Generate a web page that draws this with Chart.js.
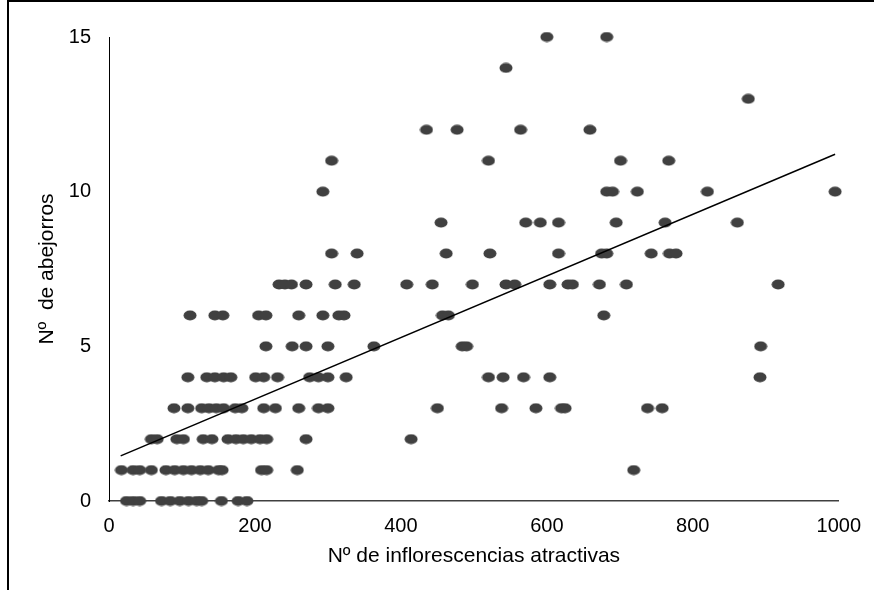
<!DOCTYPE html>
<html>
<head>
<meta charset="utf-8">
<script src="https://cdn.jsdelivr.net/npm/chart.js@4"></script>
<style>
    body{ margin:0; background:#fff; }
    #contenedor{ position:relative; width:874px; height:590px; overflow:hidden; }
    #marco{ position:absolute; left:7px; top:0px; width:900px; height:700px; border-left:2px solid #000; border-top:2px solid #000; }
    #grafico{ position:absolute; left:0; top:0; }
</style>
</head>
<body>
<div id="contenedor">
    <div id="marco"></div>
    <canvas id="grafico" width="874" height="590"></canvas>
</div>
<script>
// inflorescencias atractivas por cada numero de abejorros (0..15)
const infl_0 = [24, 33, 42, 72, 84, 97, 109, 120, 127, 154, 177, 189];
const infl_1 = [17, 33, 42, 58, 78, 90, 102, 113, 125, 136, 150, 155, 209, 216, 258, 719];
const infl_2 = [58, 66, 93, 102, 129, 141, 163, 174, 184, 195, 207, 216, 270, 414];
const infl_3 = [89, 108, 127, 137, 147, 157, 173, 182, 212, 228, 260, 287, 300, 450, 538, 585, 620, 625, 738, 758];
const infl_4 = [108, 134, 145, 157, 167, 201, 212, 231, 275, 287, 300, 325, 520, 540, 568, 604, 892];
const infl_5 = [215, 251, 270, 300, 363, 484, 490, 893];
const infl_6 = [111, 145, 156, 205, 215, 260, 293, 315, 322, 457, 465, 678];
const infl_7 = [233, 241, 250, 270, 310, 336, 408, 443, 498, 544, 556, 604, 629, 635, 672, 709, 917];
const infl_8 = [305, 340, 462, 522, 616, 675, 682, 743, 768, 777];
const infl_9 = [455, 571, 591, 616, 695, 762, 861];
const infl_10 = [293, 682, 690, 724, 820, 995];
const infl_11 = [305, 520, 701, 767];
const infl_12 = [435, 477, 564, 659];
const infl_13 = [876];
const infl_14 = [544];
const infl_15 = [600, 682];

const filas = [infl_0, infl_1, infl_2, infl_3, infl_4, infl_5, infl_6, infl_7,
    infl_8, infl_9, infl_10, infl_11, infl_12, infl_13, infl_14, infl_15];

// linea de tendencia (extremos)
const tendencia_x = [16, 995];
const tendencia_y = [1.46, 11.21];

const ticks_x = [0, 200, 400, 600, 800, 1000];
const ticks_y = [0, 5, 10, 15];

let puntos = [];
filas.forEach((fila, abejorros) => {
    fila.forEach((x) => puntos.push({x: x, y: abejorros}));
});
const linea = tendencia_x.map((x, i) => ({x: x, y: tendencia_y[i]}));

// marcador eliptico como en el original
const marcador = document.createElement("canvas");
marcador.width = 14;
marcador.height = 11;
let mctx = marcador.getContext("2d");
mctx.fillStyle = "#404040";
mctx.beginPath();
mctx.ellipse(7, 5.5, 6.5, 5, 0, 0, Math.PI * 2);
mctx.fill();

const fuente = "'Liberation Sans', Arial, sans-serif";

const ctx_g = document.getElementById("grafico");
let grafico = new Chart(ctx_g, {
    type: "scatter",
    data: {
        datasets: [{
            type: "line",
            data: linea,
            borderColor: "#000",
            borderWidth: 1.5,
            pointRadius: 0,
            fill: false,
            clip: false
        }, {
            data: puntos,
            pointStyle: marcador,
            pointRadius: 6,
            clip: false
        }]
    },
    options: {
        responsive: false,
        animation: false,
        events: [],
        layout: { padding: { left: 0, top: 37, right: 35, bottom: 0 } },
        plugins: { legend: { display: false }, tooltip: { enabled: false } },
        scales: {
            x: {
                type: "linear",
                min: 0,
                max: 1000,
                afterBuildTicks: (s) => { s.ticks = ticks_x.map((v) => ({value: v})); },
                afterFit: (s) => { s.height = 89; },
                grid: { display: false, drawTicks: false },
                border: { display: true, color: "#404040", width: 1.5 },
                ticks: {
                    color: "#000",
                    padding: 13,
                    maxRotation: 0,
                    font: { family: fuente, size: 20 },
                    callback: (v) => String(v)
                },
                title: {
                    display: true,
                    text: "Nº de inflorescencias atractivas",
                    color: "#000",
                    padding: { top: 0, bottom: 21 },
                    font: { family: fuente, size: 21 }
                }
            },
            y: {
                type: "linear",
                min: 0,
                max: 15,
                afterBuildTicks: (s) => { s.ticks = ticks_y.map((v) => ({value: v})); },
                afterFit: (s) => { s.width = 109; },
                grid: { display: false, drawTicks: false },
                border: { display: true, color: "#000", width: 1 },
                ticks: { color: "#000", padding: 18, font: { family: fuente, size: 20 }, callback: (v) => String(v) },
                title: {
                    display: true,
                    text: "Nº  de abejorros",
                    color: "#000",
                    padding: { top: 35, bottom: 0 },
                    font: { family: fuente, size: 21 }
                }
            }
        }
    }
});
console.log(grafico.chartArea);
</script>
</body>
</html>
